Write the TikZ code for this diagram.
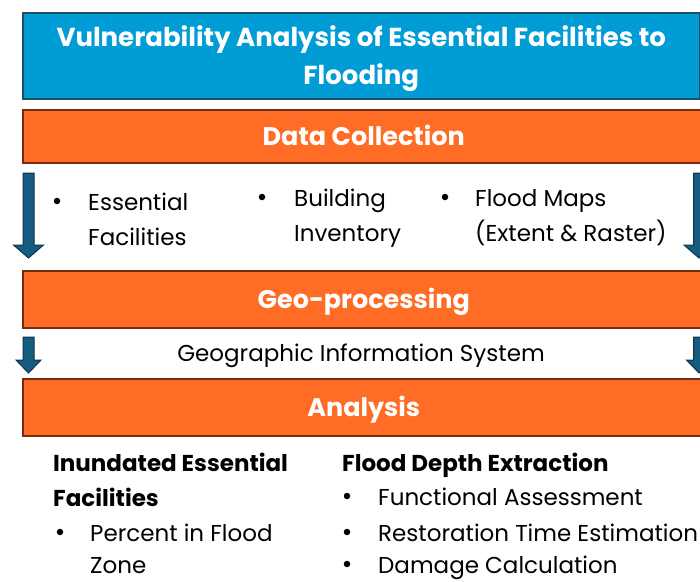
\documentclass[tikz,border=0pt]{standalone}
\usepackage{fontspec}
\setmainfont{Poppins}
\definecolor{titleblue}{RGB}{0,156,214}
\definecolor{titleedge}{RGB}{28,78,100}
\definecolor{stageorange}{RGB}{255,108,38}
\definecolor{stageedge}{RGB}{118,44,14}
\definecolor{arrowblue}{RGB}{22,92,128}
\definecolor{arrowedge}{RGB}{14,52,76}
\tikzstyle{titlebox} = [rectangle, anchor=north west, minimum width=677pt, minimum height=86pt, inner sep=0pt, align=center, text=white, fill=titleblue, draw=titleedge, line width=1.5pt, font=\bfseries\fontsize{26}{38}\selectfont]
\tikzstyle{stage} = [rectangle, anchor=north west, minimum width=682pt, inner sep=0pt, text height=19pt, text depth=0pt, text=white, fill=stageorange, draw=stageedge, line width=1.5pt, font=\bfseries\fontsize{25.5}{30}\selectfont]
\tikzstyle{item} = [anchor=base west, inner sep=0pt, font=\fontsize{23}{28}\selectfont]
\tikzstyle{head} = [anchor=base west, inner sep=0pt, font=\bfseries\fontsize{23}{28}\selectfont]
\tikzstyle{dot} = [circle, fill=black, inner sep=0pt, minimum size=6.5pt]
\tikzstyle{flowarrow} = [fill=arrowblue, draw=arrowedge, line width=1pt]

\begin{document}
\begin{tikzpicture}[x=1pt, y=-1pt]
\clip (0,0) rectangle (700,581);
\fill[white] (0,0) rectangle (700,581);

% title and the three stages
\node (title) [titlebox] at (22,12) {\rule{0pt}{26pt}Vulnerability Analysis of Essential Facilities to\\Flooding};
\node (collect) [stage, minimum height=53pt] at (22,109) {Data Collection};
\node (geo) [stage, minimum height=57pt] at (22,270) {Geo-processing};
\node (analysis) [stage, minimum height=57pt] at (22,378) {Analysis};

% data sources
\node (d1) [dot] at (57,201) {};
\node (ess1) [item] at (88,210.5) {Essential};
\node (ess2) [item] at (88,245.5) {Facilities};
\node (d2) [dot] at (262,197) {};
\node (bld1) [item] at (294,206.5) {Building};
\node (bld2) [item] at (294,241.5) {Inventory};
\node (d3) [dot] at (445,197) {};
\node (fld1) [item] at (475,206.5) {Flood Maps};
\node (fld2) [item] at (475,241.5) {(Extent \& Raster)};

\node (gis) [item, anchor=base] at (361,361.5) {Geographic Information System};

% analysis results
\node (inund1) [head] at (53,471.5) {Inundated Essential};
\node (inund2) [head] at (53,506.5) {Facilities};
\node (d4) [dot] at (60,532) {};
\node (pct1) [item] at (90,541.5) {Percent in Flood};
\node (pct2) [item] at (90,573) {Zone};

\node (depth) [head] at (342,471.5) {Flood Depth Extraction};
\node (d5) [dot] at (347,496) {};
\node (func) [item] at (378,505.5) {Functional Assessment};
\node (d6) [dot] at (347,532) {};
\node (rest) [item] at (378,541.5) {Restoration Time Estimation};
\node (d7) [dot] at (347,564) {};
\node (dmg) [item] at (378,573) {Damage Calculation};

% block arrows down the sides: x, top, head start, tip, shaft half, head half
\foreach \x/\top/\neck/\tip/\s/\h in {28.5/173/245/258/5.5/15, 699/173/245/258/5.5/15, 28.5/337/360/373/5.5/12.5, 699/337/360/373/5.5/12.5}
  \draw[flowarrow] (\x-\s,\top) -- (\x+\s,\top) -- (\x+\s,\neck) -- (\x+\h,\neck) -- (\x,\tip) -- (\x-\h,\neck) -- (\x-\s,\neck) -- cycle;
\end{tikzpicture}
\end{document}
